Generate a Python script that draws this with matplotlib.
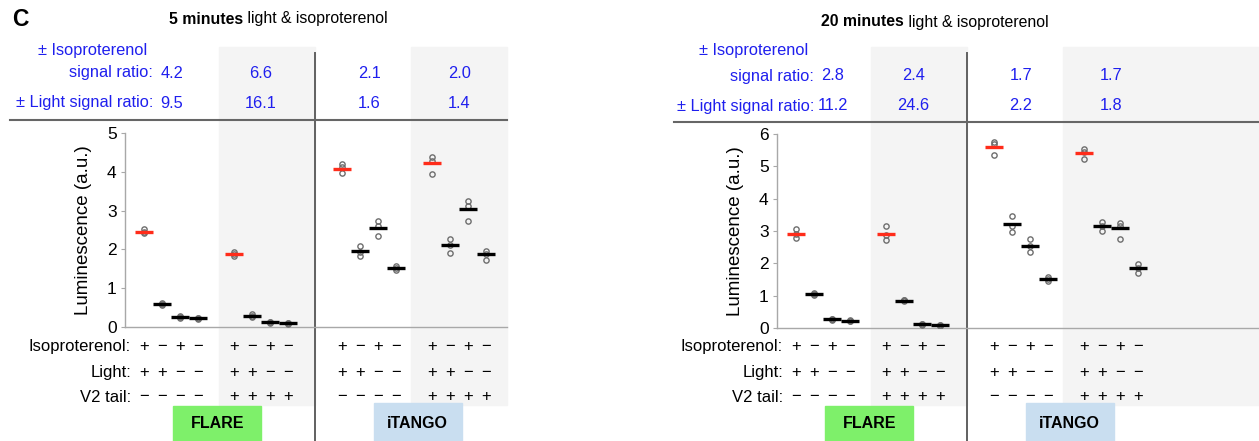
import matplotlib
matplotlib.use('Agg')
import matplotlib.pyplot as plt
import matplotlib.transforms as mtransforms
from matplotlib.patches import Rectangle

plt.rcParams['font.family'] = ['Liberation Sans', 'DejaVu Sans']

W, H = 1259, 441

# conditions (same for both panels)
iso_row = ['+', '−', '+', '−']
light_row = ['+', '+', '−', '−']
v2_rows = [['−'] * 4, ['+'] * 4, ['−'] * 4, ['+'] * 4]
sensors = ['FLARE', 'iTANGO']

# 5 minutes light & isoproterenol
means_5 = [[2.45, 0.59, 0.26, 0.22],
           [1.88, 0.29, 0.12, 0.10],
           [4.08, 1.97, 2.55, 1.51],
           [4.22, 2.12, 3.05, 1.87]]
reps_5 = [[[2.42, 2.46, 2.52], [0.57, 0.60, 0.62], [0.24, 0.26, 0.28], [0.21, 0.22, 0.24]],
          [[1.82, 1.88, 1.93], [0.27, 0.29, 0.33], [0.10, 0.12, 0.13], [0.08, 0.10, 0.11]],
          [[4.21, 4.13, 3.97], [2.09, 1.94, 1.82], [2.74, 2.60, 2.35], [1.58, 1.51, 1.46]],
          [[4.38, 4.28, 3.94], [2.26, 2.12, 1.92], [3.25, 3.13, 2.74], [1.97, 1.87, 1.73]]]
iso_ratio_5 = ['4.2', '6.6', '2.1', '2.0']
light_ratio_5 = ['9.5', '16.1', '1.6', '1.4']

# 20 minutes light & isoproterenol
means_20 = [[2.90, 1.05, 0.27, 0.23],
            [2.90, 0.85, 0.11, 0.08],
            [5.60, 3.21, 2.55, 1.51],
            [5.41, 3.14, 3.08, 1.87]]
reps_20 = [[[3.06, 2.90, 2.79], [1.02, 1.05, 1.08], [0.25, 0.27, 0.29], [0.21, 0.23, 0.25]],
           [[3.14, 2.88, 2.71], [0.83, 0.86, 0.88], [0.09, 0.11, 0.13], [0.06, 0.08, 0.10]],
           [[5.75, 5.69, 5.36], [3.46, 3.16, 2.98], [2.76, 2.55, 2.35], [1.57, 1.51, 1.45]],
           [[5.55, 5.44, 5.22], [3.29, 3.14, 3.00], [3.26, 3.16, 2.75], [1.99, 1.87, 1.70]]]
iso_ratio_20 = ['2.8', '2.4', '1.7', '1.7']
light_ratio_20 = ['11.2', '24.6', '2.2', '1.8']

group_start = [0, 5, 11, 16]
BLUE = '#1f1fee'
SHADE = '#f4f4f4'


def fy(p):
    # pixel row from top -> figure fraction
    return 1 - p / H


def draw_panel(fig, px_left, px_right, px_y0, px_y5top, ymax, bold, rest,
               means, reps, iso_ratio, light_ratio, dy, shift, hline_x0):
    ax = fig.add_axes([px_left / W, fy(px_y0), (px_right - px_left) / W,
                       (px_y0 - px_y5top) / H])
    ax.patch.set_visible(False)
    xmax = -1.06 + (px_right - px_left) / 18.0
    tr = mtransforms.blended_transform_factory(ax.transData, fig.transFigure)

    # shaded columns (V2 tail +)
    ax.add_patch(Rectangle((4.15, fy(405)), 9.5 - 4.15, fy(47) - fy(405),
                           transform=tr, color=SHADE, zorder=0, clip_on=False))
    ax.add_patch(Rectangle((14.83, fy(405)), xmax - 14.83, fy(47) - fy(405),
                           transform=tr, color=SHADE, zorder=0, clip_on=False))
    # divider and header line
    ax.plot([9.5, 9.5], [fy(441), fy(53)], transform=tr, color='#606060',
            lw=1.4, clip_on=False, zorder=1)
    ax.plot([hline_x0, xmax], [fy(120 + dy / 2), fy(120 + dy / 2)], transform=tr,
            color='#666666', lw=1.5, clip_on=False, zorder=1)

    for g in range(4):
        for i in range(4):
            x = group_start[g] + i
            ax.plot([x] * 3, reps[g][i], 'o', mfc='none', mec='#6e6e6e',
                    ms=3.8, mew=1.0, zorder=3)
            col = '#ff2c1a' if i == 0 else 'black'
            ax.plot([x], [means[g][i]], '_', color=col, ms=13, mew=2.4, zorder=4)
            ax.text(x, fy(347), iso_row[i], transform=tr, ha='center',
                    va='center', fontsize=12)
            ax.text(x, fy(372), light_row[i], transform=tr, ha='center',
                    va='center', fontsize=12)
            ax.text(x, fy(397), v2_rows[g][i], transform=tr, ha='center',
                    va='center', fontsize=12)
        xc = group_start[g] + 1.5 + (shift + 0.05 if g == 0 else 0)
        ax.text(xc, fy(73 + dy), iso_ratio[g], transform=tr, ha='center',
                va='center', fontsize=11.8, color=BLUE)
        ax.text(xc, fy(103 + dy), light_ratio[g], transform=tr, ha='center',
                va='center', fontsize=11.8, color=BLUE)

    # header labels
    ax.text(0.17 + shift, fy(50), '± Isoproterenol', transform=tr, ha='right',
            va='center', fontsize=11.8, color=BLUE)
    ax.text(0.5 + shift, fy(73 + dy), 'signal ratio:', transform=tr, ha='right',
            va='center', fontsize=11.8, color=BLUE)
    ax.text(0.5 + shift, fy(103 + dy), '± Light signal ratio:', transform=tr,
            ha='right', va='center', fontsize=11.8, color=BLUE)

    # title: bold part + regular part
    t1 = ax.text(1.4, fy(19 + dy), bold, transform=tr, ha='left', va='center',
                 fontsize=11.4, fontweight='bold')
    ax.annotate(rest, xy=(1, 0.5), xycoords=t1, ha='left', va='center',
                fontsize=11.4)

    # row labels
    for yy, lab in zip([347, 372, 397], ['Isoproterenol:', 'Light:', 'V2 tail:']):
        ax.text(-0.72, fy(yy), lab, transform=tr, ha='right', va='center',
                fontsize=12)

    # sensor boxes
    for k, (name, col) in enumerate(zip(sensors, ['#7ef06a', '#c9def0'])):
        x0 = [1.62, 12.75][k]
        ytop = [406, 403][k]
        ax.add_patch(Rectangle((x0, fy(445)), 4.9, fy(ytop) - fy(445),
                               transform=tr, color=col, zorder=1, clip_on=False))
        ax.text(x0 + 2.45, fy(424), name, transform=tr, ha='center',
                va='center', fontsize=11.5, fontweight='bold')

    ax.set_xlim(-1.06, xmax)
    ax.set_ylim(0, ymax)
    ax.set_xticks([])
    ax.set_yticks(range(ymax + 1))
    for s in ['top', 'right']:
        ax.spines[s].set_visible(False)
    for s in ['left', 'bottom']:
        ax.spines[s].set_color('#a8a8a8')
        ax.spines[s].set_linewidth(1.0)
    ax.tick_params(axis='y', length=3, color='#a8a8a8', labelsize=12.5, pad=3)
    ax.set_ylabel('Luminescence (a.u.)', fontsize=13.5)
    ax.yaxis.set_label_coords(-2.92, 0.5, transform=mtransforms.blended_transform_factory(
        ax.transData, ax.transAxes))
    return ax


fig = plt.figure(figsize=(W / 100, H / 100), dpi=100)

draw_panel(fig, 125, 507, 327, 133, 5, '5 minutes', ' light & isoproterenol',
           means_5, reps_5, iso_ratio_5, light_ratio_5, 0, 0.0, -7.44)
draw_panel(fig, 777, 1259, 328, 134, 6, '20 minutes', ' light & isoproterenol',
           means_20, reps_20, iso_ratio_20, light_ratio_20, 3, 0.5, -6.8)

fig.text(12 / W, fy(19), 'C', fontsize=16.5, fontweight='bold', ha='left',
         va='center')

fig.savefig('out.png', dpi=100)
